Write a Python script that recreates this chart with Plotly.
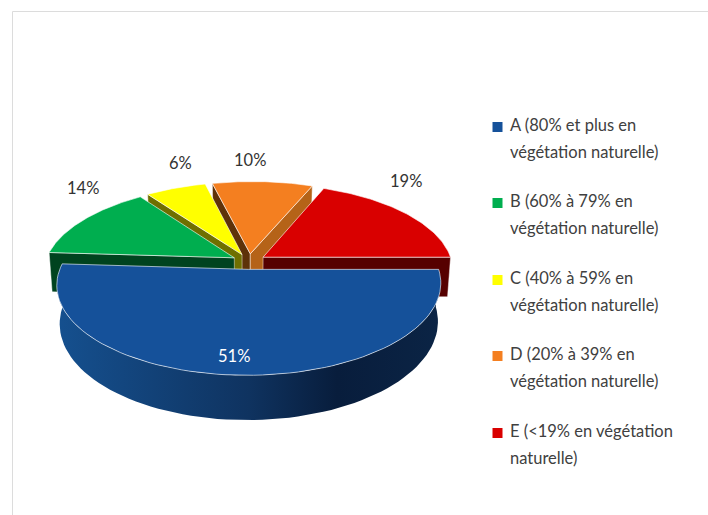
import numpy as np
import plotly.graph_objects as go

categories = ["A", "B", "C", "D", "E"]
values = [51, 14, 6, 10, 19]
pct_labels = ["51%", "14%", "6%", "10%", "19%"]
legend_lines = [
    ["A (80% et plus en", "végétation naturelle)"],
    ["B (60% à 79% en", "végétation naturelle)"],
    ["C (40% à 59% en", "végétation naturelle)"],
    ["D (20% à 39% en", "végétation naturelle)"],
    ["E (<19% en végétation", "naturelle)"],
]
top_colors = ["#15519a", "#00ae4f", "#ffff00", "#f47f20", "#d90000"]
# None = that cut face is hidden behind its own slice
start_face = [None, "#00431f", "#6f6f00", "#5e3209", None]
end_face = [None, None, None, "#b56318", "#560000"]
draw_order = [3, 2, 4, 1, 0]

# the pie sits on a tilted disc, page pixels used as plot units
CX, CY = 249, 261.5
R, RY, K = 189, 86.2, 0.16
SKEW = 2.5
EXPLODE = 0.09
DEPTH = 40
RIM_DEPTH = 37
EDGE = "rgba(255,255,255,0.6)"


def project(X, Y, down=0):
    den = 1 + K * Y
    x = CX + R * X / den + SKEW * Y
    y = CY - RY * Y / den
    if down:
        x = CX + (x - CX) * 0.985
        y = y + down / den
    return x, y


def wedge_points(a0, a1):
    mid = np.radians((a0 + a1) / 2)
    ox, oy = EXPLODE * np.cos(mid), -EXPLODE * np.sin(mid)
    t = np.radians(np.linspace(a0, a1, 80))
    return ox, oy, ox + np.cos(t), oy - np.sin(t)


def poly(x, y, color, line=EDGE, **kw):
    return go.Scatter(
        x=list(x), y=list(y), mode="lines", fill="toself", fillcolor=color,
        line=dict(color=line, width=1), hoverinfo="skip", showlegend=False, **kw
    )


def radial_face(ox, oy, X, Y, color):
    x1, y1 = project(np.array([ox, X]), np.array([oy, Y]))
    x2, y2 = project(np.array([X, ox]), np.array([Y, oy]), DEPTH)
    return poly(np.r_[x1, x2, x1[0]], np.r_[y1, y2, y1[0]], color, "rgba(255,255,255,0.45)")


fig = go.Figure()

bounds = np.r_[0, np.cumsum(values)] * 3.6
for i in draw_order:
    a0, a1 = bounds[i], bounds[i + 1]
    ox, oy, X, Y = wedge_points(a0, a1)
    if start_face[i]:
        fig.add_trace(radial_face(ox, oy, X[0], Y[0], start_face[i]))
    if end_face[i]:
        fig.add_trace(radial_face(ox, oy, X[-1], Y[-1], end_face[i]))
    if i == 0:
        # big slice comes out towards the viewer, pull its width in a bit
        X = X * 0.988 + 0.005
    xt, yt = project(X, Y)
    if i == 0:
        # rim of the big slice, the only one seen from the front
        xb, yb = project(X, Y, RIM_DEPTH)
        fig.add_trace(poly(
            np.r_[xt, xb[::-1], xt[0]], np.r_[yt, yb[::-1], yt[0]], "#0b2445",
            line="rgba(0,0,0,0)",
            fillgradient=dict(type="horizontal", colorscale=[
                [0, "#15508f"], [0.5, "#0f3360"], [0.73, "#081d3c"], [1, "#0b2445"]
            ]),
        ))
    ax, ay = project(ox, oy)
    fig.add_trace(poly(np.r_[ax, xt, ax], np.r_[ay, yt, ay], top_colors[i]))

# percentage labels
label_pos = [(234, 356), (83, 188), (180, 163), (250, 160), (406, 181)]
for txt, (lx, ly), c in zip(pct_labels, label_pos, ["#ffffff"] + ["#333333"] * 4):
    fig.add_annotation(x=lx, y=ly, text=txt, showarrow=False,
                       font=dict(family="Lato", size=16.5, color=c))

# legend written by hand because of the wide line spacing
legend_y = [125, 201, 278, 354, 431]
fig.add_trace(go.Scatter(
    x=[497.5] * 5, y=[y + 2 for y in legend_y], mode="markers",
    marker=dict(symbol="square", size=10, color=top_colors),
    hoverinfo="skip", showlegend=False,
))
for lines, y0 in zip(legend_lines, legend_y):
    for j, line in enumerate(lines):
        fig.add_annotation(x=507.5, y=y0 + j * 26.5, text=line, showarrow=False, xanchor="left",
                           font=dict(family="Lato", size=16.5, color="#404040"))

fig.update_layout(
    width=708, height=515, margin=dict(l=0, r=0, t=0, b=0),
    paper_bgcolor="white", plot_bgcolor="white",
    xaxis=dict(range=[0, 708], visible=False, fixedrange=True),
    yaxis=dict(range=[515, 0], visible=False, fixedrange=True),
    shapes=[
        dict(type="line", x0=12.5, x1=12.5, y0=11.5, y1=515, line=dict(color="#dcdcdc", width=1)),
        dict(type="line", x0=12.5, x1=708, y0=11.5, y1=11.5, line=dict(color="#dcdcdc", width=1)),
    ],
)

fig.write_html("out.html", post_script="document.body.style.margin='0';", config=dict(displayModeBar=False))
